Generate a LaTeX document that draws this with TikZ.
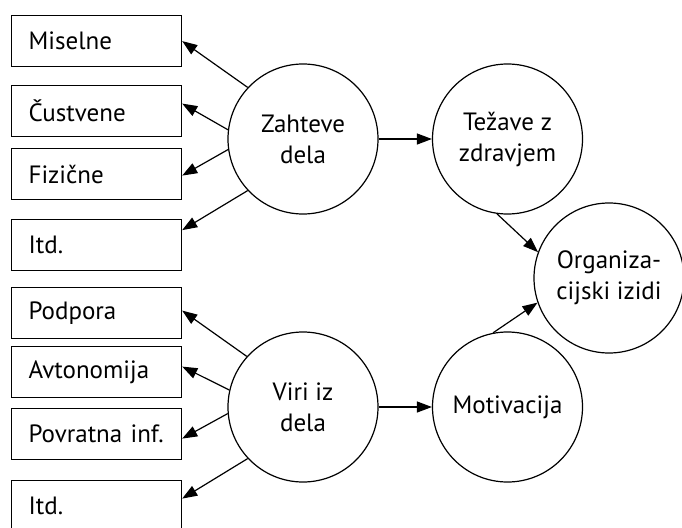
\documentclass[tikz,border=0pt]{standalone}
\usepackage{fontspec}
\setmainfont{PT Sans}
\usetikzlibrary{arrows.meta}
\tikzset{
  box/.style={draw, line width=1.2pt, rectangle, anchor=north west, text width=136pt, inner xsep=17pt, inner ysep=0pt, minimum height=51pt, align=left, font=\fontsize{25}{31}\selectfont},
  bubble/.style={draw, line width=1.2pt, circle, minimum size=150pt, inner sep=0pt, align=center, font=\fontsize{25}{31}\selectfont},
  arr/.style={line width=1.2pt, -{Triangle[length=15pt,width=11pt]}}
}
\begin{document}
\begin{tikzpicture}[x=1pt,y=-1pt]
\useasboundingbox (0,0) rectangle (682,527);
\clip (0,0) rectangle (682,527);
\node[box] (b1) at (11,15) {Miselne};
\node[box] (b2) at (11,85) {Čustvene};
\node[box] (b3) at (11,148) {Fizične};
\node[box] (b4) at (11,219) {Itd.};
\node[box] (b5) at (11,287) {Podpora};
\node[box] (b6) at (11,346) {Avtonomija};
\node[box] (b7) at (11,408) {Povratna inf.};
\node[box] (b8) at (11,480) {Itd.};
\node[bubble] (zd) at (303,139) {Zahteve\\dela};
\node[bubble] (vd) at (303,407) {Viri iz\\dela};
\node[bubble] (tz) at (507.5,139) {Težave z\\zdravjem};
\node[bubble] (mo) at (507.5,407) {Motivacija};
\node[bubble] (oi) at (609,278) {Organiza-\\cijski izidi};
\draw[arr] (zd.137) -- (b1.east);
\draw[arr] (zd.173) -- ([yshift=7.5pt]b2.east);
\draw[arr] (zd.188) -- ([yshift=-1.5pt]b3.east);
\draw[arr] (zd.223) -- ([yshift=15pt]b4.east);
\draw[arr] (vd.138) -- ([yshift=2.5pt]b5.east);
\draw[arr] (vd.167) -- ([yshift=5.5pt]b6.east);
\draw[arr] (vd.185) -- ([yshift=-4.5pt]b7.east);
\draw[arr] (vd.223) -- ([yshift=7.5pt]b8.east);
\draw[arr] (zd.east) -- (tz.west);
\draw[arr] (vd.east) -- (mo.west);
\draw[arr] (tz.262) -- (oi.160);
\draw[arr] (mo.101) -- (oi.199);
\end{tikzpicture}
\end{document}
